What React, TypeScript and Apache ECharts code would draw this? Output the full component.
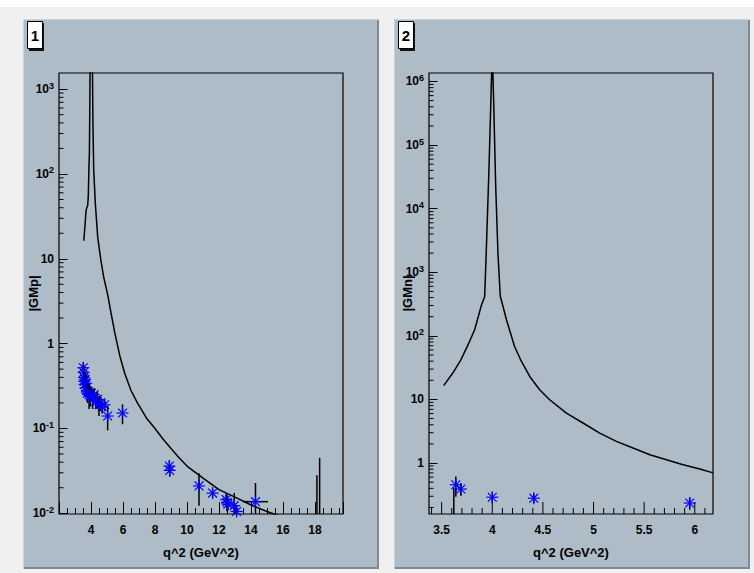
import React, { useEffect, useRef } from "react";
import * as echarts from "echarts";

// ---------- Data: pad 1 (|GMp|) ----------
const gmpQ2 = [3.52, 3.54, 3.56, 3.58, 3.6, 3.63, 3.66, 3.7, 3.74, 3.78, 3.83, 3.88, 3.95, 4.02, 4.1, 4.2, 4.3, 4.4, 4.5, 4.6, 4.7, 4.85, 5.04, 5.97, 8.9, 8.92, 10.75, 11.6, 12.45, 12.5, 12.55, 12.95, 13.1, 14.28, 18.12, 18.29];
const gmpVal = [0.52, 0.46, 0.4, 0.36, 0.33, 0.38, 0.3, 0.34, 0.28, 0.26, 0.27, 0.25, 0.24, 0.26, 0.23, 0.25, 0.21, 0.22, 0.19, 0.2, 0.18, 0.19, 0.14, 0.152, 0.036, 0.032, 0.021, 0.0173, 0.0145, 0.0135, 0.0128, 0.0123, 0.0105, 0.0137, 0.005, 0.003];
const gmpErr = [0.08, 0.1, 0.06, 0.05, 0.05, 0.08, 0.06, 0.1, 0.05, 0.06, 0.04, 0.08, 0.06, 0.05, 0.06, 0.05, 0.04, 0.05, 0.05, 0.04, 0.03, 0.03, 0.045, 0.04, 0.006, 0.005, 0.0087, 0.002, 0.0025, 0.003, 0.002, 0.005, 0.002, 0.009, 0.023, 0.042];
const gmpQ2Err = [0, 0, 0, 0, 0, 0, 0, 0, 0, 0, 0, 0, 0, 0, 0, 0, 0, 0, 0, 0, 0, 0, 0, 0, 0, 0, 0, 0, 0, 0, 0, 0, 0, 0.78, 0, 0];

const fitGmpQ2 = [3.55, 3.62, 3.69, 3.75, 3.79, 3.83, 3.87, 3.9, 3.93, 3.95, 4.08, 4.12, 4.17, 4.27, 4.42, 4.62, 4.8, 5.04, 5.25, 5.5, 5.8, 6.1, 6.5, 6.9, 7.5, 8.0, 8.5, 9.0, 9.5, 10.0, 11.0, 12.0, 13.0, 14.0, 15.0, 15.5, 16.0];
const fitGmpVal = [16.3, 24, 37, 41, 42, 54, 120, 175, 800, 3000, 3000, 400, 111, 45, 18, 9.5, 6, 3.8, 2.3, 1.3, 0.72, 0.45, 0.28, 0.2, 0.13, 0.1, 0.075, 0.058, 0.045, 0.036, 0.026, 0.019, 0.0155, 0.0125, 0.0105, 0.0097, 0.009];

// ---------- Data: pad 2 (|GMn|) ----------
const gmnQ2 = [3.62, 3.64, 3.69, 4.0, 4.41, 5.95];
const gmnVal = [0.05, 0.456, 0.39, 0.29, 0.28, 0.235];
const gmnErr = [0.36, 0.16, 0.085, 0.055, 0.047, 0.05];
const gmnQ2Err = [0, 0, 0, 0, 0, 0];

const fitGmnQ2 = [3.52, 3.61, 3.69, 3.76, 3.826, 3.892, 3.925, 3.94, 3.967, 3.99, 4.0, 4.014, 4.034, 4.056, 4.079, 4.106, 4.14, 4.17, 4.22, 4.288, 4.37, 4.468, 4.567, 4.732, 4.896, 5.061, 5.226, 5.39, 5.556, 5.72, 5.885, 6.05, 6.18];
const fitGmnVal = [16.5, 26, 42, 72, 125, 300, 417, 2000, 40700, 830000, 3000000, 460000, 22000, 2000, 420, 290, 179, 125, 68, 39.6, 23, 14.2, 9.9, 6.1, 4.26, 2.96, 2.19, 1.72, 1.35, 1.13, 0.94, 0.805, 0.7];

// ---------- Axis ranges and ticks ----------
const x1Range = [2, 19.75];
const y1Range = [0.0098, 1550];
const x2Range = [3.375, 6.18];
const y2Range = [0.158, 1.36e6];
const x2MajorTicks = [3.5, 4, 4.5, 5, 5.5, 6];
const x2MinorStep = 0.1;

const FONT = "'Liberation Sans', Arial, Helvetica, sans-serif";
const PAD_COLOR = "#adbcc6";

function supLabel(v: number) {
  const e = Math.round(Math.log10(v));
  if (e === 0) return "{b|1}";
  if (e === 1) return "{b|10}";
  return "{b|10}{s|" + e + "}";
}

const richY = {
  b: { fontSize: 12, fontWeight: "bold", fontFamily: FONT, color: "#000", lineHeight: 16 },
  s: { fontSize: 9, fontWeight: "bold", fontFamily: FONT, color: "#000", lineHeight: 9, verticalAlign: "top" },
};

function minorLogTicks(lo: number, hi: number) {
  const out: number[] = [];
  const e0 = Math.floor(Math.log10(lo));
  const e1 = Math.ceil(Math.log10(hi));
  for (let e = e0; e <= e1; e++) {
    for (let k = 2; k <= 9; k++) {
      const v = k * Math.pow(10, e);
      if (v > lo && v < hi) out.push(v);
    }
  }
  return out;
}

function pointsSeries(xIdx: number, xs: number[], ys: number[], ey: number[], ex: number[]) {
  return {
    type: "custom",
    xAxisIndex: xIdx,
    yAxisIndex: xIdx,
    z: 5,
    data: xs.map((x, i) => [x, ys[i], ey[i], ex[i]]),
    renderItem: (params: any, api: any) => {
      const cs = params.coordSys;
      const x = api.value(0);
      const y = api.value(1);
      const e = api.value(2);
      const xe = api.value(3);
      const top = cs.y;
      const bot = cs.y + cs.height;
      const clampY = (p: number) => Math.max(top, Math.min(bot, p));
      const c = api.coord([x, y]);
      const cx = c[0];
      const cy = c[1];
      const yHi = clampY(api.coord([x, y + e])[1]);
      const yLo = y - e > 0 ? clampY(api.coord([x, y - e])[1]) : bot;
      const children: any[] = [];
      const errStyle = { stroke: "#000", lineWidth: 1.5 };
      children.push({ type: "line", shape: { x1: cx, y1: yLo, x2: cx, y2: yHi }, style: errStyle });
      const inside = cy >= top && cy <= bot;
      if (xe > 0 && inside) {
        const l = api.coord([x - xe, y])[0];
        const r = api.coord([x + xe, y])[0];
        children.push({ type: "line", shape: { x1: l, y1: cy, x2: r, y2: cy }, style: errStyle });
      }
      if (inside) {
        const s = 6;
        const d = 4.4;
        const st = { stroke: "#0000ff", lineWidth: 1.2 };
        children.push({ type: "line", shape: { x1: cx - s, y1: cy, x2: cx + s, y2: cy }, style: st });
        children.push({ type: "line", shape: { x1: cx, y1: cy - s, x2: cx, y2: cy + s }, style: st });
        children.push({ type: "line", shape: { x1: cx - d, y1: cy - d, x2: cx + d, y2: cy + d }, style: st });
        children.push({ type: "line", shape: { x1: cx - d, y1: cy + d, x2: cx + d, y2: cy - d }, style: st });
      }
      return { type: "group", children };
    },
  };
}

// minor ticks on the log y axis (2..9 x 10^n), drawn inward from the left frame
function yMinorTickSeries(idx: number, xMin: number, yr: number[]) {
  return {
    type: "custom",
    xAxisIndex: idx,
    yAxisIndex: idx,
    z: 3,
    silent: true,
    data: minorLogTicks(yr[0], yr[1]).map((t) => [xMin, t]),
    renderItem: (params: any, api: any) => {
      const p = api.coord([api.value(0), api.value(1)]);
      return { type: "line", shape: { x1: p[0], y1: p[1], x2: p[0] + 4.5, y2: p[1] }, style: { stroke: "#000", lineWidth: 1 } };
    },
  };
}

// x ticks for pad 2 (major every 0.5, minor every 0.1), drawn upward from the bottom frame
function x2TickSeries(yMin: number) {
  const data: number[][] = [];
  x2MajorTicks.forEach((t) => data.push([t, yMin, 12]));
  for (let k = Math.ceil(x2Range[0] / x2MinorStep); k * x2MinorStep < x2Range[1]; k++) {
    const v = Math.round(k * x2MinorStep * 1000) / 1000;
    if (x2MajorTicks.indexOf(v) < 0) data.push([v, yMin, 6]);
  }
  return {
    type: "custom",
    xAxisIndex: 1,
    yAxisIndex: 1,
    z: 3,
    silent: true,
    data,
    renderItem: (params: any, api: any) => {
      const p = api.coord([api.value(0), api.value(1)]);
      const len = api.value(2);
      return { type: "line", shape: { x1: p[0], y1: p[1], x2: p[0], y2: p[1] - len }, style: { stroke: "#000", lineWidth: 1 } };
    },
  };
}

function padGraphics(x: number, label: string) {
  const y = 19;
  const w = 356;
  const h = 550;
  return [
    { type: "rect", z: -10, shape: { x, y, width: w, height: h }, style: { fill: PAD_COLOR } },
    { type: "rect", z: -9, shape: { x: x + w - 2, y, width: 2, height: h }, style: { fill: "#7e8a94" } },
    { type: "rect", z: -9, shape: { x, y: y + h - 2, width: w, height: 2 }, style: { fill: "#7e8a94" } },
    { type: "rect", z: -9, shape: { x, y, width: w, height: 1 }, style: { fill: "#c9d3da" } },
    { type: "rect", z: -9, shape: { x, y, width: 1, height: h }, style: { fill: "#c9d3da" } },
    { type: "rect", z: 10, shape: { x: x + 6, y: 23, width: 15, height: 28 }, style: { fill: "#111" } },
    { type: "rect", z: 11, shape: { x: x + 4.5, y: 21.5, width: 15, height: 27 }, style: { fill: "#fff", stroke: "#000", lineWidth: 1 } },
    {
      type: "text", z: 12, x: x + 12, y: 35,
      style: { text: label, fill: "#000", font: "bold 15px " + FONT, textAlign: "center", textVerticalAlign: "middle" },
    },
  ];
}

const labelStyle = { color: "#000", fontSize: 12, fontWeight: "bold", fontFamily: FONT };
const titleStyle = { color: "#000", fontSize: 13, fontWeight: "bold", fontFamily: FONT };

export default function App() {
  const ref = useRef<HTMLDivElement>(null);
  useEffect(() => {
    if (!ref.current) return;
    const chart = echarts.init(ref.current, undefined, { renderer: "svg" });
    const option: any = {
      animation: false,
      backgroundColor: "transparent",
      graphic: {
        elements: [
          { type: "rect", z: -20, shape: { x: 0, y: 7, width: 754, height: 566 }, style: { fill: "#f0f0f0" } },
          ...padGraphics(23, "1"),
          ...padGraphics(394, "2"),
        ],
      },
      grid: [
        { left: 59, top: 73, width: 284, height: 441, show: true, borderColor: "#000", borderWidth: 1.2, backgroundColor: "transparent" },
        { left: 429, top: 73, width: 284, height: 441, show: true, borderColor: "#000", borderWidth: 1.2, backgroundColor: "transparent" },
      ],
      xAxis: [
        {
          gridIndex: 0,
          type: "value",
          min: x1Range[0],
          max: x1Range[1],
          interval: 2,
          axisLine: { show: false },
          axisTick: { show: true, inside: true, length: 12, lineStyle: { color: "#000", width: 1 } },
          minorTick: { show: true, splitNumber: 4, length: 6, lineStyle: { color: "#000", width: 1 } },
          splitLine: { show: false },
          minorSplitLine: { show: false },
          axisLabel: { ...labelStyle, showMinLabel: false, showMaxLabel: false, margin: 10 },
          name: "q^2 (GeV^2)",
          nameLocation: "middle",
          nameGap: 32,
          nameMoveOverlap: false,
          nameTextStyle: titleStyle,
        },
        {
          gridIndex: 1,
          type: "value",
          min: x2Range[0],
          max: x2Range[1],
          interval: 0.125,
          axisLine: { show: false },
          axisTick: { show: false },
          splitLine: { show: false },
          axisLabel: {
            ...labelStyle,
            showMinLabel: false,
            showMaxLabel: false,
            margin: 10,
            formatter: (v: number) => (Math.abs(v * 2 - Math.round(v * 2)) < 1e-6 ? String(Math.round(v * 2) / 2) : ""),
          },
          name: "q^2 (GeV^2)",
          nameLocation: "middle",
          nameGap: 32,
          nameMoveOverlap: false,
          nameTextStyle: titleStyle,
        },
      ],
      yAxis: [
        {
          gridIndex: 0,
          type: "log",
          logBase: 10,
          min: y1Range[0],
          max: y1Range[1],
          axisLine: { show: false },
          axisTick: { show: true, inside: true, length: 8.5, lineStyle: { color: "#000", width: 1 } },
          splitLine: { show: false },
          axisLabel: { showMinLabel: false, showMaxLabel: false, margin: 5, formatter: supLabel, rich: richY },
          name: "|GMp|",
          nameLocation: "middle",
          nameGap: 19,
          nameMoveOverlap: false,
          nameRotate: 90,
          nameTextStyle: titleStyle,
        },
        {
          gridIndex: 1,
          type: "log",
          logBase: 10,
          min: y2Range[0],
          max: y2Range[1],
          axisLine: { show: false },
          axisTick: { show: true, inside: true, length: 8.5, lineStyle: { color: "#000", width: 1 } },
          splitLine: { show: false },
          axisLabel: { showMinLabel: false, showMaxLabel: false, margin: 5, formatter: supLabel, rich: richY },
          name: "|GMn|",
          nameLocation: "middle",
          nameGap: 15,
          nameMoveOverlap: false,
          nameRotate: 90,
          nameTextStyle: titleStyle,
        },
      ],
      series: [
        {
          type: "line",
          xAxisIndex: 0,
          yAxisIndex: 0,
          data: fitGmpQ2.map((x, i) => [x, fitGmpVal[i]]),
          showSymbol: false,
          symbol: "none",
          lineStyle: { color: "#000", width: 1.5 },
          clip: true,
          z: 4,
        },
        {
          type: "line",
          xAxisIndex: 1,
          yAxisIndex: 1,
          data: fitGmnQ2.map((x, i) => [x, fitGmnVal[i]]),
          showSymbol: false,
          symbol: "none",
          lineStyle: { color: "#000", width: 1.5 },
          clip: true,
          z: 4,
        },
        pointsSeries(0, gmpQ2, gmpVal, gmpErr, gmpQ2Err),
        pointsSeries(1, gmnQ2, gmnVal, gmnErr, gmnQ2Err),
        yMinorTickSeries(0, x1Range[0], y1Range),
        yMinorTickSeries(1, x2Range[0], y2Range),
        x2TickSeries(y2Range[0]),
      ],
    };
    chart.setOption(option);
    return () => chart.dispose();
  }, []);
  return (
    <div
      ref={ref}
      style={{ position: "absolute", left: 0, top: 0, width: 754, height: 573, background: "#fff" }}
    />
  );
}
